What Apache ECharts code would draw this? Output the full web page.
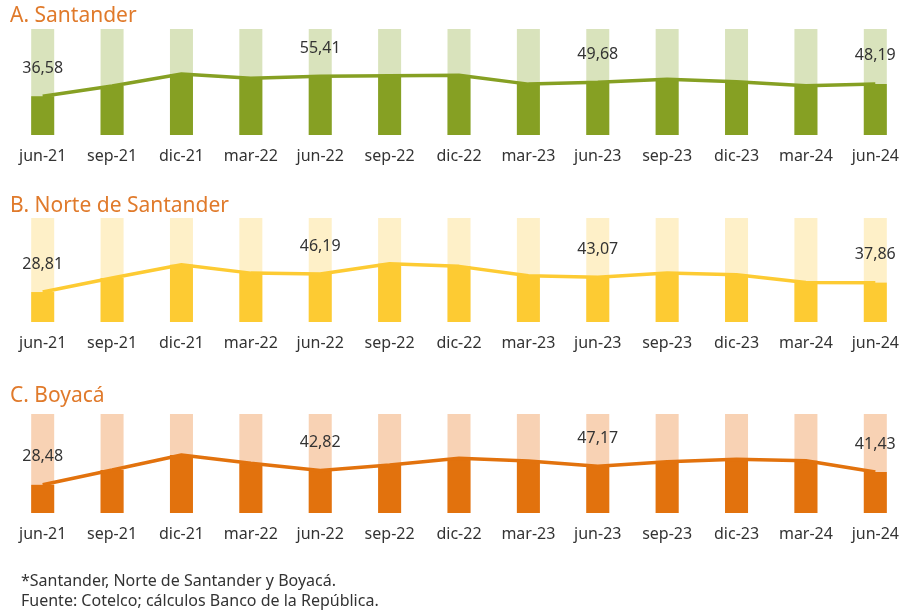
<!DOCTYPE html>
<html>
<head>
<meta charset="utf-8">
<script src="https://cdn.jsdelivr.net/npm/echarts@6/dist/echarts.min.js"></script>
<style>
  html, body { margin: 0; padding: 0; background: #fff; }
  #chart { width: 910px; height: 613px; }
</style>
</head>
<body>
<div id="chart"></div>
<script>
// trimestres
const quarters = ['jun-21', 'sep-21', 'dic-21', 'mar-22', 'jun-22', 'sep-22', 'dic-22',
                  'mar-23', 'jun-23', 'sep-23', 'dic-23', 'mar-24', 'jun-24']

// ocupación (%) por departamento
const santander      = [36.58, 46.2, 57.5, 53.5, 55.41, 56.0, 56.4, 48.0, 49.68, 52.5, 50.3, 46.5, 48.19]
const norteSantander = [28.81, 42.3, 55.0, 47.0, 46.19, 56.0, 53.5, 44.5, 43.07, 47.0, 45.5, 38.0, 37.86]
const boyaca         = [28.48, 43.4, 58.6, 50.2, 42.82, 48.5, 55.3, 52.5, 47.17, 51.8, 54.2, 52.8, 41.43]

// puntos con etiqueta
const labelIdx = [0, 4, 8, 12]

const panels = [
  { title: 'A. Santander',          data: santander,      dark: '#86A023', light: '#D9E3BC', top: 29,  height: 106, titleY: 1 },
  { title: 'B. Norte de Santander', data: norteSantander, dark: '#FDCB33', light: '#FEF0C8', top: 218, height: 104, titleY: 191 },
  { title: 'C. Boyacá',             data: boyaca,         dark: '#E2720D', light: '#F8D2B4', top: 414, height: 99,  titleY: 381 },
]

const fmt = v => v.toFixed(2).replace('.', ',')

const chart = echarts.init(document.getElementById('chart'))

const grid = [], xAxis = [], yAxis = [], series = [], title = []

panels.forEach((p, i) => {
  title.push({
    text: p.title,
    left: 5,
    top: p.titleY,
    textStyle: { fontFamily: 'Noto Sans', fontWeight: 'normal', fontSize: 21, color: '#E07A2B' }
  })
  grid.push({ left: 8, width: 911, top: p.top, height: p.height })
  xAxis.push({
    type: 'category',
    gridIndex: i,
    data: quarters,
    axisLine: { show: false },
    axisTick: { show: false },
    axisLabel: { fontFamily: 'Noto Sans', fontSize: 16, color: '#333', margin: 13, interval: 0 }
  })
  yAxis.push({ type: 'value', gridIndex: i, min: 0, max: 100, show: false, splitLine: { show: false } })
  series.push({
    type: 'bar',
    xAxisIndex: i,
    yAxisIndex: i,
    data: p.data,
    barWidth: 23,
    itemStyle: { color: p.dark },
    showBackground: true,
    backgroundStyle: { color: p.light },
    silent: true,
    label: {
      show: true,
      position: 'top',
      distance: 20,
      fontFamily: 'Noto Sans',
      fontSize: 16,
      color: '#333',
      formatter: (d) => labelIdx.includes(d.dataIndex) ? fmt(d.value) : ''
    }
  })
  series.push({
    type: 'line',
    xAxisIndex: i,
    yAxisIndex: i,
    data: p.data,
    symbol: 'none',
    lineStyle: { color: p.dark, width: 3.5 },
    z: 5
  })
})

chart.setOption({
  animation: false,
  title,
  grid,
  xAxis,
  yAxis,
  series,
  graphic: [
    { type: 'text', left: 21, top: 573, style: { text: '*Santander, Norte de Santander y Boyacá.', font: '16px "Noto Sans"', fill: '#333' } },
    { type: 'text', left: 21, top: 593, style: { text: 'Fuente: Cotelco; cálculos Banco de la República.', font: '16px "Noto Sans"', fill: '#333' } }
  ]
})
</script>
</body>
</html>
